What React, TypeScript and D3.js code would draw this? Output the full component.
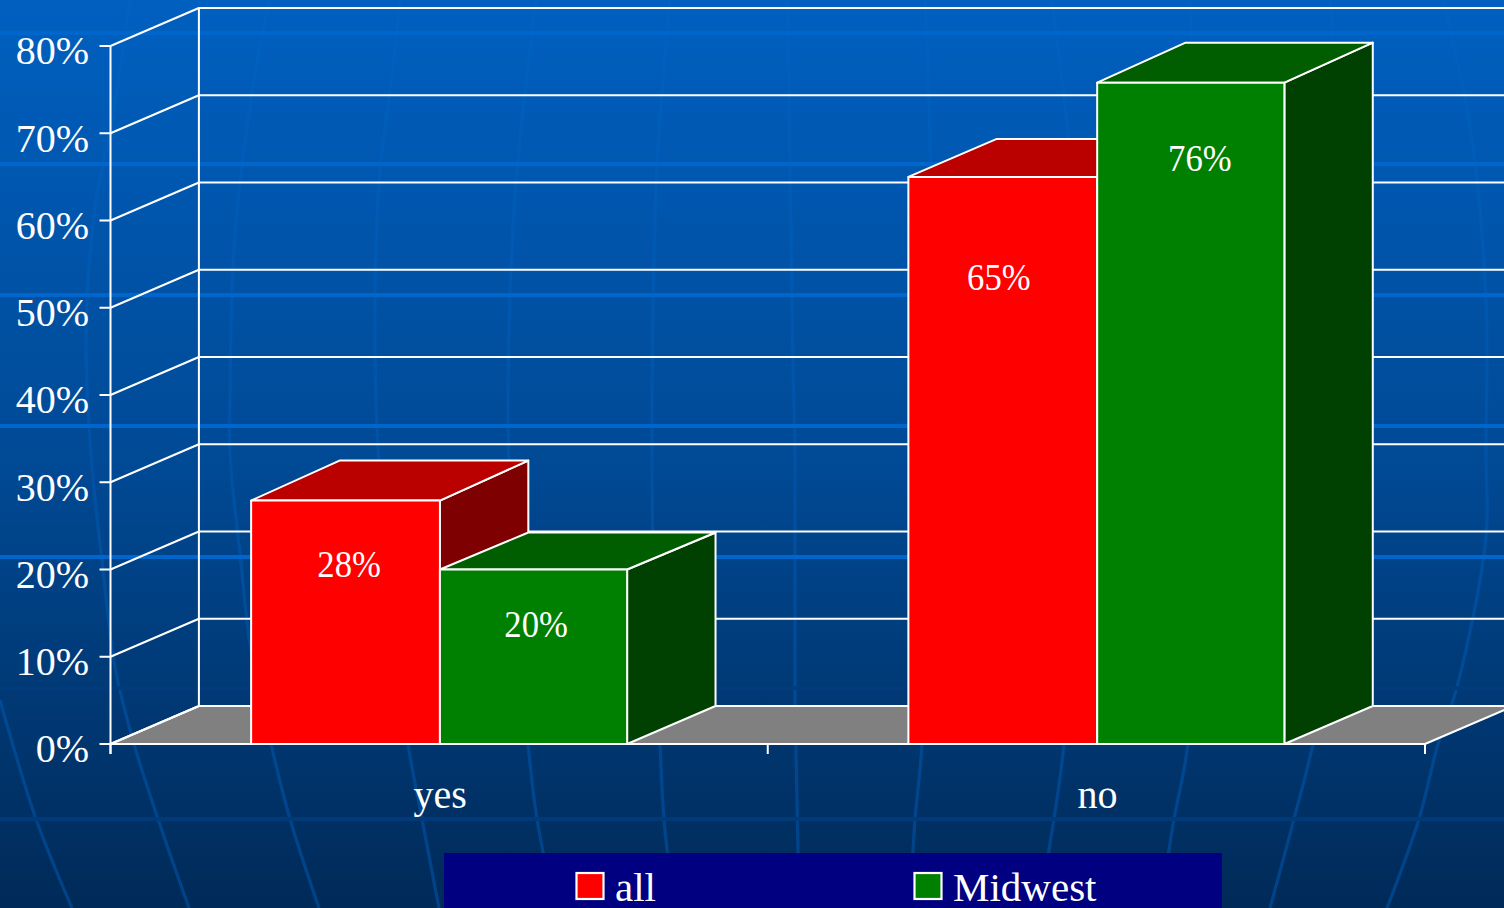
import React from "react";
import * as d3 from "d3";

const categories = ["yes", "no"];
const seriesNames = ["all", "Midwest"];
const allValues = [27.9, 65];
const midwestValues = [20, 75.8];
const valueLabels = [["28%", "65%"], ["20%", "76%"]];
const yTicks = [0, 10, 20, 30, 40, 50, 60, 70, 80];

const W = 1504, H = 908;
const AX = 110.5, AR = 1425, Y0 = 744, Y80 = 46;
const DX = 88.4, DY = -38;
const GROUP_HALF = 188;
const SPLIT = 0.8;

// label nudges relative to bar centre / bar top: [dx, baseline dy]
const labelNudge = [[[4, 76.6], [-3.5, 113]], [[3, 67], [9.5, 88.7]]];
// rendered depth of each bar top (the reference rounds these differently)
const topDepth = [[-40, -38], [-37, -40]];

// background decoration
const bandLines = [33, 164, 295, 426, 557];
const hiddenLines = [688];
const faintLines = [819];
const meridians: [number, number][][] = [
  [[72, 908], [36, 819], [0, 700]],
  [[189, 908], [158, 819], [134, 744], [115, 667], [103, 570], [91, 454], [86, 333], [96, 200], [110, 133], [130, 0]],
  [[319, 908], [290, 819], [271, 744], [251, 650], [240, 554], [230, 454], [230, 400], [235, 233], [259, 50], [270, 0]],
  [[439, 908], [422, 819], [408, 744], [390, 600], [376, 400], [379, 183], [393, 67], [400, 0]],
  [[555, 908], [537, 819], [528, 744], [515, 600], [508, 400], [516, 183], [532, 33], [536, 0]],
  [[674, 908], [664, 819], [660, 744], [654, 600], [652, 400], [657, 167], [667, 33], [670, 0]],
  [[799, 908], [798, 850], [795, 687], [795, 454], [793, 367], [788, 33], [787, 0]],
  [[908, 908], [913, 850], [915, 819], [922, 744], [929, 500], [932, 300], [929, 100], [925, 0]],
  [[1043, 908], [1049, 850], [1054, 819], [1064, 744], [1080, 500], [1082, 300], [1068, 133], [1054, 17], [1052, 0]],
  [[1160, 908], [1169, 850], [1174, 819], [1188, 744], [1205, 500], [1210, 300], [1195, 100], [1190, 0]],
  [[1270, 908], [1294, 819], [1313, 744], [1340, 600], [1352, 400], [1345, 200], [1330, 0]],
  [[1387, 908], [1419, 819], [1438, 744], [1457, 687], [1486, 537], [1486, 454], [1486, 300], [1471, 133], [1443, 0]],
];

const fills = [
  { front: "#ff0000", top: "#bb0000", side: "#7f0000" },
  { front: "#008000", top: "#005d00", side: "#004000" },
];
const FONT = "'Liberation Serif', 'Times New Roman', serif";
const EDGE = { stroke: "#fff", strokeWidth: 2, strokeLinejoin: "round" as const };

export default function App() {
  const y = d3.scaleLinear().domain([0, 80]).range([Y0, Y80]);
  const xGroup = d3.scaleBand<string>().domain(categories).range([AX, AR]);
  const meridianPath = d3.line<[number, number]>().x((d) => d[0]).y((d) => d[1]).curve(d3.curveCatmullRom);
  const poly = (pts: number[][]) => pts.map((p) => p.join(",")).join(" ");
  const seriesValues = [allValues, midwestValues];

  return (
    <svg width={W} height={H} viewBox={`0 0 ${W} ${H}`} style={{ position: "absolute", left: 0, top: 0, display: "block" }} fontFamily={FONT}>
      <defs>
        <linearGradient id="bg" x1="0" y1="0" x2="0" y2="1">
          <stop offset="0" stopColor="#0060c0" />
          <stop offset="0.5" stopColor="#004a96" />
          <stop offset="1" stopColor="#002a58" />
        </linearGradient>
        <linearGradient id="mer" gradientUnits="userSpaceOnUse" x1="0" y1="0" x2="0" y2={H}>
          <stop offset="0" stopColor="#0062c2" />
          <stop offset="0.5" stopColor="#0052a6" />
          <stop offset="1" stopColor="#004286" />
        </linearGradient>
        <clipPath id="page"><rect x={0} y={0} width={W} height={H} /></clipPath>
      </defs>
      <rect x={0} y={0} width={W} height={H} fill="url(#bg)" />
      <g clipPath="url(#page)">
        {meridians.map((m, i) => (
          <path key={i} d={meridianPath(m) ?? ""} fill="none" stroke="url(#mer)" strokeWidth={3.2} />
        ))}
        {bandLines.map((v) => (
          <rect key={v} x={0} y={v - 2} width={W} height={4} fill="#0066cc" />
        ))}
        {hiddenLines.map((v) => (
          <rect key={v} x={0} y={v - 2} width={W} height={4} fill="#003c7c" />
        ))}
        {faintLines.map((v) => (
          <rect key={v} x={0} y={v - 2} width={W} height={4} fill="#003a78" />
        ))}

        {/* floor */}
        <polygon points={poly([[AX, Y0], [AX + DX, Y0 + DY], [AR + DX, Y0 + DY], [AR, Y0]])} fill="#808080" {...EDGE} />
        {/* walls */}
        <line x1={AX + DX} x2={AX + DX} y1={y(0) + DY} y2={y(80) + DY} {...EDGE} />
        <line x1={AX} x2={AX} y1={Y80} y2={Y0 + 10} {...EDGE} />
        {yTicks.map((t) => (
          <g key={t}>
            <polyline points={poly([[AX - 11, y(t)], [AX, y(t)], [AX + DX, y(t) + DY], [AR + DX, y(t) + DY]])} fill="none" {...EDGE} />
            <text x={89} y={y(t) + 18.4} fill="#fff" fontSize={40} textAnchor="end">{t}%</text>
          </g>
        ))}
        {/* category ticks */}
        {[AX, AX + xGroup.bandwidth(), AR].map((x, i) => (
          <line key={i} x1={x} x2={x} y1={Y0} y2={Y0 + 10} {...EDGE} />
        ))}
        <line x1={AX} x2={AR} y1={Y0} y2={Y0} {...EDGE} />

        {/* bars */}
        {categories.map((c, ci) => {
          const cx = (xGroup(c) ?? 0) + xGroup.bandwidth() / 2;
          const xs = d3.scaleBand<string>().domain(seriesNames).range([cx - GROUP_HALF, cx + GROUP_HALF]);
          return (
            <g key={c}>
              {seriesNames.map((s, si) => {
                const x0 = (xs(s) ?? 0) + (si === 1 ? SPLIT : 0);
                const x1 = (xs(s) ?? 0) + xs.bandwidth() + (si === 0 ? SPLIT : 0);
                const top = y(seriesValues[si][ci]);
                const d = topDepth[si][ci];
                return (
                  <g key={s}>
                    <polygon points={poly([[x1, top], [x1 + DX, top + d], [x1 + DX, Y0 + DY], [x1, Y0]])} fill={fills[si].side} {...EDGE} />
                    <polygon points={poly([[x0, top], [x0 + DX, top + d], [x1 + DX, top + d], [x1, top]])} fill={fills[si].top} {...EDGE} />
                    <rect x={x0} y={top} width={x1 - x0} height={Y0 - top} fill={fills[si].front} {...EDGE} />
                  </g>
                );
              })}
              {seriesNames.map((s, si) => {
                const x0 = xs(s) ?? 0;
                const top = y(seriesValues[si][ci]);
                const [nx, ny] = labelNudge[si][ci];
                return (
                  <text key={s} transform={`translate(${x0 + xs.bandwidth() / 2 + nx},${top + ny}) scale(1.005,1.1)`} fill="#fff" fontSize={34.5} textAnchor="middle">
                    {valueLabels[si][ci]}
                  </text>
                );
              })}
              <text x={cx + 1} y={808} fill="#fff" fontSize={40} textAnchor="middle">{c}</text>
            </g>
          );
        })}

        {/* legend */}
        <rect x={444} y={853} width={778} height={60} fill="#000080" />
        {seriesNames.map((s, si) => {
          const lx = [576.5, 914.5][si];
          return (
            <g key={s}>
              <rect x={lx} y={873} width={27} height={26} fill={fills[si].front} stroke="#fff" strokeWidth={2.2} />
              <text x={lx + 38.5} y={900.5} fill="#fff" fontSize={41}>{s}</text>
            </g>
          );
        })}
      </g>
    </svg>
  );
}
